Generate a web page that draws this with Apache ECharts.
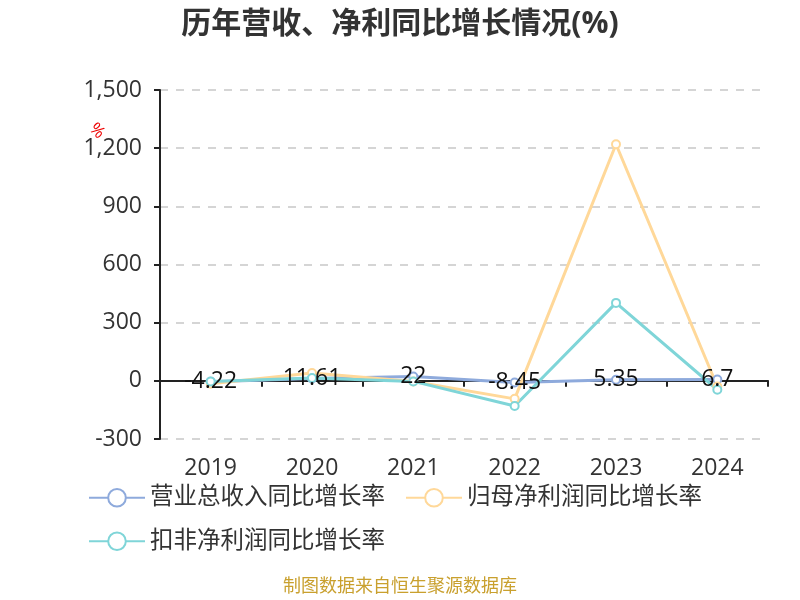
<!DOCTYPE html>
<html><head><meta charset="utf-8">
<script src="https://cdn.jsdelivr.net/npm/echarts@6/dist/echarts.min.js"></script>
<style>html,body{margin:0;padding:0;background:#fff}#c{width:800px;height:600px}</style>
</head><body><div id="c"></div>
<script>
const years = ['2019','2020','2021','2022','2023','2024'];
const revenueGrowth = [-4.22, 11.61, 22, -8.45, 5.35, 6.7];
const netProfitGrowth = [-15, 40, -3, -93, 1220, -29];
const deductedProfitGrowth = [-3, 15, -3, -130, 402, -46];
const seriesNames = ['营业总收入同比增长率','归母净利润同比增长率','扣非净利润同比增长率'];
const colors = ['#8eaadc','#ffd899','#7fd5d8'];
const font = '"Open Sans","Noto Sans CJK SC",sans-serif';

const chart = echarts.init(document.getElementById('c'));
function mk(name, data, color, label){
  return {
    name, type:'line', data, symbol:'emptyCircle', symbolSize:8,
    lineStyle:{width:3,color}, itemStyle:{color, borderWidth:2},
    label: label ? {show:true, position:'inside', color:'#111', fontSize:23, fontFamily:font} : {show:false}
  };
}
chart.setOption({
  animation:false,
  title:{text:'历年营收、净利同比增长情况(%)', left:'center', top:4,
    textStyle:{fontSize:30, fontWeight:'bold', color:'#333', fontFamily:font}},
  color: colors,
  legend:{left:83, top:481, width:690, itemWidth:56, itemHeight:22, itemGap:20,
    textStyle:{fontSize:23.5, color:'#333', fontFamily:font},
    data: seriesNames},
  grid:{left:160, right:32, top:90, bottom:161},
  xAxis:{type:'category', data:years, boundaryGap:true,
    axisLine:{lineStyle:{color:'#222', width:2}, onZero:true},
    axisTick:{show:true, length:6, lineStyle:{color:'#222', width:2}},
    axisLabel:{fontSize:23, color:'#333', fontFamily:font, margin:18}},
  yAxis:{type:'value', min:-300, max:1500, interval:300,
    axisLine:{show:true, lineStyle:{color:'#222', width:2}},
    axisTick:{show:true, length:6, lineStyle:{color:'#222', width:2}},
    splitLine:{lineStyle:{type:[8,8], color:'#c8c8c8', width:1.5}},
    axisLabel:{fontSize:23, color:'#333', fontFamily:font, margin:18}},
  graphic:[
    {type:'text', left:86, top:120, rotation:-Math.PI/4, style:{text:'%', fill:'#e00', fontSize:17, fontFamily:font}},
    {type:'text', left:'center', top:578, style:{text:'制图数据来自恒生聚源数据库', fill:'#c9a02e', fontSize:18, fontFamily:font}}
  ],
  series:[
    mk(seriesNames[0], revenueGrowth, colors[0], true),
    mk(seriesNames[1], netProfitGrowth, colors[1], false),
    mk(seriesNames[2], deductedProfitGrowth, colors[2], false)
  ]
});
</script></body></html>
